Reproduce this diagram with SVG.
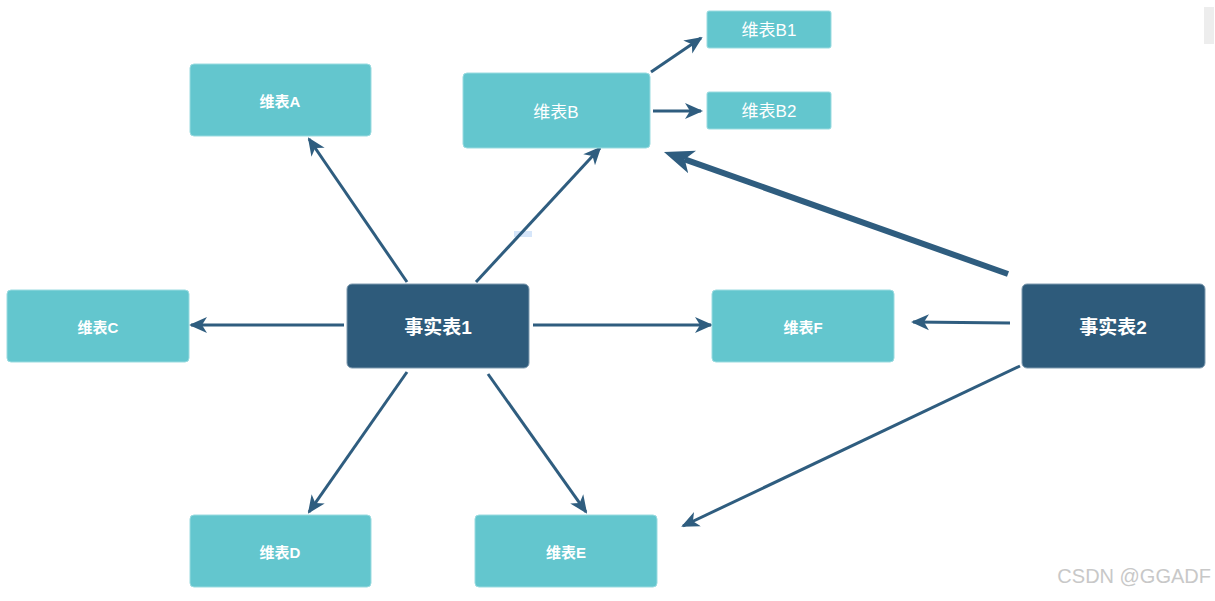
<svg xmlns="http://www.w3.org/2000/svg" width="1215" height="601" viewBox="0 0 1215 601">
<style>
.lt{fill:#63C6CE;stroke:#9ADBE0;stroke-width:1}
.dk{fill:#2E5B7B;stroke:#7F9BB0;stroke-width:1}
.t{font-family:"Liberation Sans","Noto Sans CJK SC",sans-serif;fill:#fff;text-anchor:middle;dominant-baseline:central}
.ts{font-size:15px;font-weight:bold}
.tb{font-size:17px}
.tf{font-size:19px;font-weight:bold}
.c{stroke:#2F5D7F;stroke-width:3;fill:none;marker-end:url(#ah)}
</style>
<defs>
<marker id="ah" markerUnits="userSpaceOnUse" viewBox="0 0 18 18" refX="16" refY="9" markerWidth="18" markerHeight="18" orient="auto">
<path d="M0,1 L18,9 L0,17 L5,9 z" fill="#2F5D7F"/>
</marker>
<marker id="ahb" markerUnits="userSpaceOnUse" viewBox="0 0 30 26" refX="8" refY="13" markerWidth="30" markerHeight="26" orient="auto">
<path d="M0,1 L30,13 L0,25 L8,13 z" fill="#2F5D7F"/>
</marker>
</defs>
<rect width="1215" height="601" fill="#fff"/>
<rect x="1204" y="7" width="10" height="37" fill="#EDEDED"/>
<rect x="514" y="231" width="18" height="6" fill="#D6E6FA"/>
<g id="connectors">
<line class="c" x1="407" y1="282" x2="309" y2="139"/>
<line class="c" x1="476" y1="282" x2="600" y2="148"/>
<line class="c" x1="344" y1="325" x2="191" y2="325"/>
<line class="c" x1="533" y1="325" x2="711" y2="325"/>
<line class="c" x1="407" y1="372" x2="309" y2="512"/>
<line class="c" x1="488" y1="374" x2="586" y2="512"/>
<line class="c" x1="651" y1="72" x2="701" y2="38"/>
<line class="c" x1="653" y1="111" x2="701" y2="111"/>
<line x1="1008" y1="274" x2="684.7" y2="159.3" stroke="#2F5D7F" stroke-width="6" marker-end="url(#ahb)"/>
<line class="c" x1="1010" y1="323" x2="913" y2="322"/>
<line class="c" x1="1020" y1="366" x2="683" y2="526"/>
</g>
<g id="dimA"><rect class="lt" x="190" y="64" width="181" height="72" rx="4"/><text class="t ts" x="280" y="101">维表A</text></g>
<g id="dimB"><rect class="lt" x="463" y="73" width="187" height="75" rx="4"/><text class="t tb" x="556" y="112">维表B</text></g>
<g id="dimB1"><rect class="lt" x="707" y="11" width="124" height="37" rx="2"/><text class="t tb" x="769" y="30">维表B1</text></g>
<g id="dimB2"><rect class="lt" x="707" y="92" width="124" height="37" rx="2"/><text class="t tb" x="769" y="111">维表B2</text></g>
<g id="dimC"><rect class="lt" x="7" y="290" width="182" height="72" rx="4"/><text class="t ts" x="98" y="327">维表C</text></g>
<g id="fact1"><rect class="dk" x="347" y="284" width="182" height="84" rx="5"/><text class="t tf" x="438" y="327">事实表1</text></g>
<g id="dimF"><rect class="lt" x="712" y="290" width="182" height="72" rx="4"/><text class="t ts" x="803" y="327">维表F</text></g>
<g id="fact2"><rect class="dk" x="1022" y="284" width="183" height="84" rx="5"/><text class="t tf" x="1113" y="327">事实表2</text></g>
<g id="dimD"><rect class="lt" x="190" y="515" width="181" height="72" rx="4"/><text class="t ts" x="280" y="552">维表D</text></g>
<g id="dimE"><rect class="lt" x="475" y="515" width="182" height="72" rx="4"/><text class="t ts" x="566" y="552">维表E</text></g>
<text x="1211" y="583" font-family="Liberation Sans,sans-serif" font-size="20" fill="#C8C8C8" text-anchor="end">CSDN @GGADF</text>
</svg>
